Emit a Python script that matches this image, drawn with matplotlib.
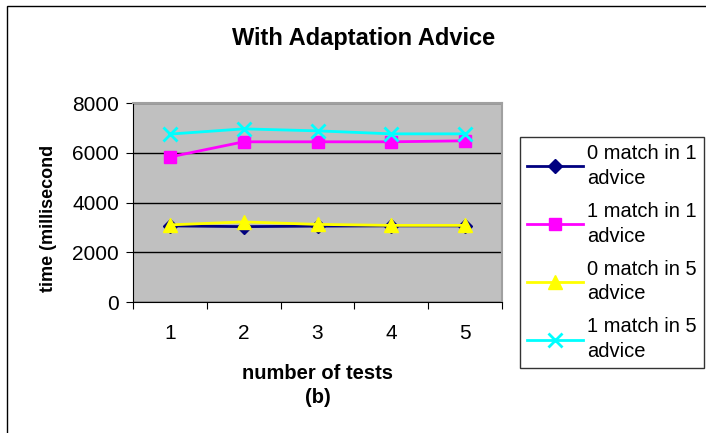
import matplotlib.pyplot as plt
from matplotlib.patches import Rectangle

plt.rcParams['font.family'] = ['Liberation Sans', 'DejaVu Sans']

tests = [1, 2, 3, 4, 5]
tick_labels = ['1', '2', '3', '4', '5']
zero_in_1 = [3060, 3030, 3050, 3060, 3060]
one_in_1 = [5830, 6440, 6440, 6440, 6480]
zero_in_5 = [3100, 3220, 3120, 3080, 3080]
one_in_5 = [6750, 6960, 6880, 6760, 6760]

series = [
    ('0 match in 1\nadvice', zero_in_1, '#000080', 'D', 7),
    ('1 match in 1\nadvice', one_in_1, '#FF00FF', 's', 9),
    ('0 match in 5\nadvice', zero_in_5, '#FFFF00', '^', 10),
    ('1 match in 5\nadvice', one_in_5, '#00FFFF', 'x', 10),
]

fig = plt.figure(figsize=(7.06, 4.33), dpi=100)
fig.patches.append(Rectangle((7 / 706, -0.1), 1.2, 1 - 6 / 433 + 0.1,
                             transform=fig.transFigure, fill=False,
                             edgecolor='black', linewidth=1))

ax = fig.add_axes([133 / 706, 1 - 302 / 433, 369 / 706, 199 / 433])
ax.set_facecolor('#C0C0C0')

for label, vals, color, marker, ms in series:
    ax.plot(tests, vals, color=color, marker=marker, markersize=ms,
            markeredgewidth=2 if marker == 'x' else 1, linewidth=2,
            label=label, zorder=3)

ax.set_xlim(0.5, 5.5)
ax.set_ylim(0, 8000)
ax.set_yticks([0, 2000, 4000, 6000, 8000])
ax.yaxis.grid(True, color='black', linewidth=1)
ax.set_axisbelow(True)

ax.set_xticks([0.5, 1.5, 2.5, 3.5, 4.5, 5.5])
ax.set_xticklabels([])
ax.set_xticks(tests, minor=True)
ax.set_xticklabels(tick_labels, minor=True)
ax.tick_params(axis='x', which='minor', length=0, pad=16, labelsize=15)
ax.tick_params(axis='x', which='major', direction='out', length=5)
ax.tick_params(axis='y', direction='out', length=5, labelsize=15, pad=5)

ax.spines['top'].set_color('#A0A0A0')
ax.spines['right'].set_color('#A0A0A0')
ax.spines['top'].set_linewidth(1.5)
ax.spines['right'].set_linewidth(1.5)

ax.set_xlabel('number of tests\n(b)', fontsize=14.5, fontweight='bold',
              labelpad=15, linespacing=1.35)
ax.set_ylabel('time (millisecond', fontsize=13, fontweight='bold')
ax.yaxis.set_label_coords(-0.205, 0.42)
fig.text(364 / 706, 1 - 38 / 433, 'With Adaptation Advice', ha='center',
         va='center', fontsize=17, fontweight='bold')

leg = fig.legend(loc='upper left', bbox_to_anchor=(520 / 706, 1 - 137 / 433),
                 fontsize=14.5, frameon=True, fancybox=False, edgecolor='black',
                 handlelength=2.8, handletextpad=0.2, borderpad=0.35,
                 labelspacing=0.7, borderaxespad=0)
leg.get_frame().set_linewidth(1)
for t in leg.get_texts():
    t.set_linespacing(1.38)

fig.savefig('out.png', dpi=100)
